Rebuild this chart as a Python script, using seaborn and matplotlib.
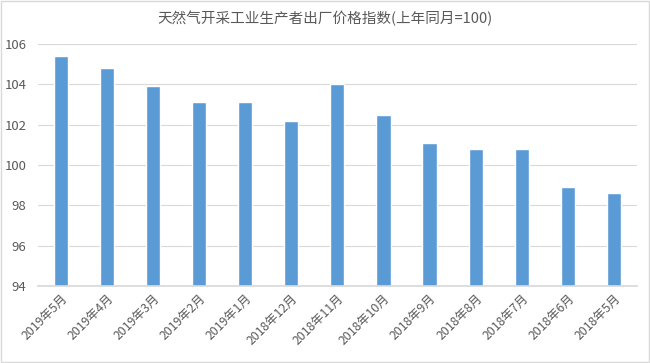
import matplotlib.pyplot as plt
import seaborn as sns
import pandas as pd

months = ['2019年5月', '2019年4月', '2019年3月', '2019年2月', '2019年1月', '2018年12月',
          '2018年11月', '2018年10月', '2018年9月', '2018年8月', '2018年7月', '2018年6月', '2018年5月']
index_values = [105.4, 104.8, 103.9, 103.1, 103.1, 102.2, 104.0, 102.5, 101.1, 100.8, 100.8, 98.9, 98.6]
y_ticks = [94, 96, 98, 100, 102, 104, 106]


def main():
    sns.set_theme(style="white")
    plt.rcParams['font.family'] = ['Noto Sans CJK SC', 'DejaVu Sans']

    df = pd.DataFrame({'month': months, 'value': index_values})

    fig = plt.figure(figsize=(6.5, 3.63), dpi=100)
    ax = fig.add_axes([0.058, 0.212, 0.922, 0.667])
    sns.barplot(data=df, x='month', y='value', color='#5B9BD5', saturation=1,
                width=0.31, ax=ax)

    ax.set_xlim(-0.5, len(months) - 0.5)
    ax.set_ylim(94, 106)
    ax.set_yticks(y_ticks)
    ax.yaxis.grid(True, color='#D9D9D9', linewidth=0.8)
    ax.set_axisbelow(True)
    for s in ['top', 'right', 'left']:
        ax.spines[s].set_visible(False)
    ax.spines['bottom'].set_color('#D9D9D9')
    ax.set_xlabel('')
    ax.set_ylabel('')
    ax.tick_params(axis='y', labelsize=9.5, colors='#595959', length=0, pad=8)
    ax.tick_params(axis='x', labelsize=8.8, colors='#595959', length=0, pad=4)
    for lbl in ax.get_xticklabels():
        lbl.set_rotation(45)
        lbl.set_ha('right')
        lbl.set_rotation_mode('anchor')

    fig.text(0.5, 0.948, '天然气开采工业生产者出厂价格指数(上年同月=100)', ha='center', va='center',
             fontsize=10.5, color='#595959')

    # outer border like the spreadsheet chart frame
    fig.patches.append(plt.Rectangle((0.002, 0.003), 0.996, 0.994, transform=fig.transFigure,
                                     fill=False, edgecolor='#D9D9D9', linewidth=1))

    fig.savefig('out.png', dpi=100)


if __name__ == '__main__':
    main()
